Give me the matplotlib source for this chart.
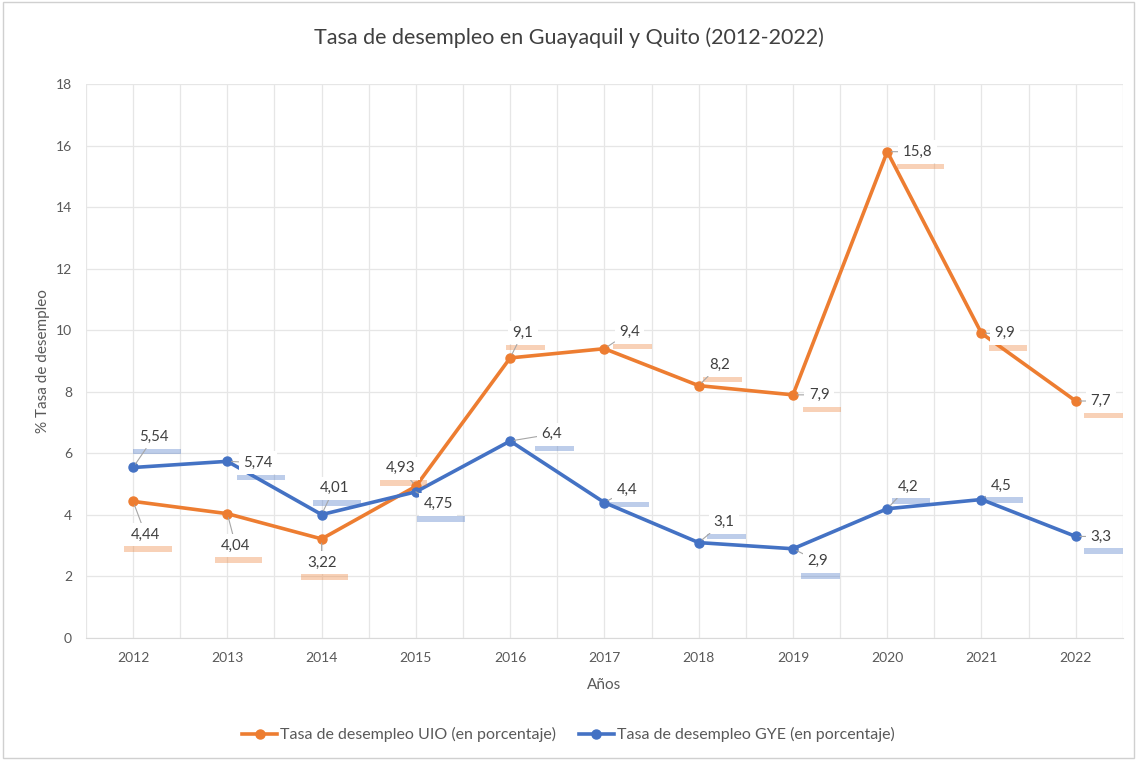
import numpy as np
import matplotlib.pyplot as plt
import matplotlib.transforms as mtransforms
from matplotlib.patches import Rectangle

plt.rcParams['font.family'] = ['Lato', 'DejaVu Sans']

# Datos
anios = ['2012', '2013', '2014', '2015', '2016', '2017', '2018', '2019', '2020', '2021', '2022']
uio = [4.44, 4.04, 3.22, 4.93, 9.1, 9.4, 8.2, 7.9, 15.8, 9.9, 7.7]
gye = [5.54, 5.74, 4.01, 4.75, 6.4, 4.4, 3.1, 2.9, 4.2, 4.5, 3.3]
uio_txt = ['4,44', '4,04', '3,22', '4,93', '9,1', '9,4', '8,2', '7,9', '15,8', '9,9', '7,7']
gye_txt = ['5,54', '5,74', '4,01', '4,75', '6,4', '4,4', '3,1', '2,9', '4,2', '4,5', '3,3']

# desplazamiento de etiquetas (puntos)
uio_off = [(9, -24), (6, -23), (0, -17), (-11, 13), (9, 18), (18, 12), (15, 15), (19, 0),
           (22, 0), (17, 0), (18, 0)]
gye_off = [(15, 22), (22, -1), (9, 19), (16, -9), (30, 5), (16, 9), (18, 15), (18, -9),
           (15, 16), (14, 10), (18, 0)]

naranja = '#ED7D31'
azul = '#4472C4'

fig = plt.figure(figsize=(11.37, 7.6), dpi=100)
ax = fig.add_axes([0.0756, 0.1605, 0.912, 0.729])
fig.patches.append(Rectangle((0.003, 0.003), 0.994, 0.994, transform=fig.transFigure,
                             fill=False, edgecolor='#D0D0D0', linewidth=1))

x = np.arange(len(anios))
ax.plot(x, uio, color=naranja, linewidth=2.6, marker='o', markersize=6.5,
        label='Tasa de desempleo UIO (en porcentaje)', zorder=4)
ax.plot(x, gye, color=azul, linewidth=2.6, marker='o', markersize=6.5,
        label='Tasa de desempleo GYE (en porcentaje)', zorder=4)


def etiquetas(vals, txts, offs, color):
    for xi, v, t, (dx, dy) in zip(x, vals, txts, offs):
        # sombra de color bajo la caja (en pulgadas respecto al punto)
        w = (len(t) * 6.6 + 8) / 72
        tr = fig.dpi_scale_trans + mtransforms.ScaledTranslation(xi, v, ax.transData)
        ax.add_patch(Rectangle(((dx + 2) / 72 - w / 2, (dy - 12.5) / 72), w, 4 / 72,
                               transform=tr, facecolor=color, alpha=0.35,
                               edgecolor='none', zorder=5, clip_on=False))
        ax.annotate(t, (xi, v), xytext=(dx, dy), textcoords='offset points',
                    ha='center', va='center', fontsize=10.8, color='#404040',
                    bbox=dict(boxstyle='square,pad=0.3', fc='white', ec='none'),
                    arrowprops=dict(arrowstyle='-', color='#A6A6A6', lw=0.8,
                                    shrinkA=0, shrinkB=3),
                    zorder=6)


etiquetas(uio, uio_txt, uio_off, naranja)
etiquetas(gye, gye_txt, gye_off, azul)

ax.set_xlim(-0.5, len(anios) - 0.5)
ax.set_ylim(0, 18)
ax.set_yticks(np.arange(0, 19, 2))
ax.set_xticks(x)
ax.set_xticklabels(anios)
ax.set_xticks(np.arange(-0.5, len(anios), 1), minor=True)
ax.grid(True, which='both', color='#E6E6E6', linewidth=0.9)
ax.set_axisbelow(True)
ax.tick_params(which='both', length=0, labelsize=10, colors='#595959', pad=10)
for s in ['top', 'right', 'left']:
    ax.spines[s].set_visible(False)
ax.spines['bottom'].set_color('#D9D9D9')

ax.set_xlabel('Años', fontsize=11, color='#595959', labelpad=10)
ax.set_ylabel('% Tasa de desempleo', fontsize=11, color='#595959', labelpad=4)
fig.text(0.5, 0.951, 'Tasa de desempleo en Guayaquil y Quito (2012-2022)', ha='center',
         va='center', fontsize=15.5, color='#404040')

fig.legend(loc='center', bbox_to_anchor=(0.5, 0.033), ncol=2, frameon=False, fontsize=11.5,
           labelcolor='#595959', handlelength=2.2, columnspacing=1.4, handletextpad=0.2)

plt.savefig('out.png', dpi=100)
